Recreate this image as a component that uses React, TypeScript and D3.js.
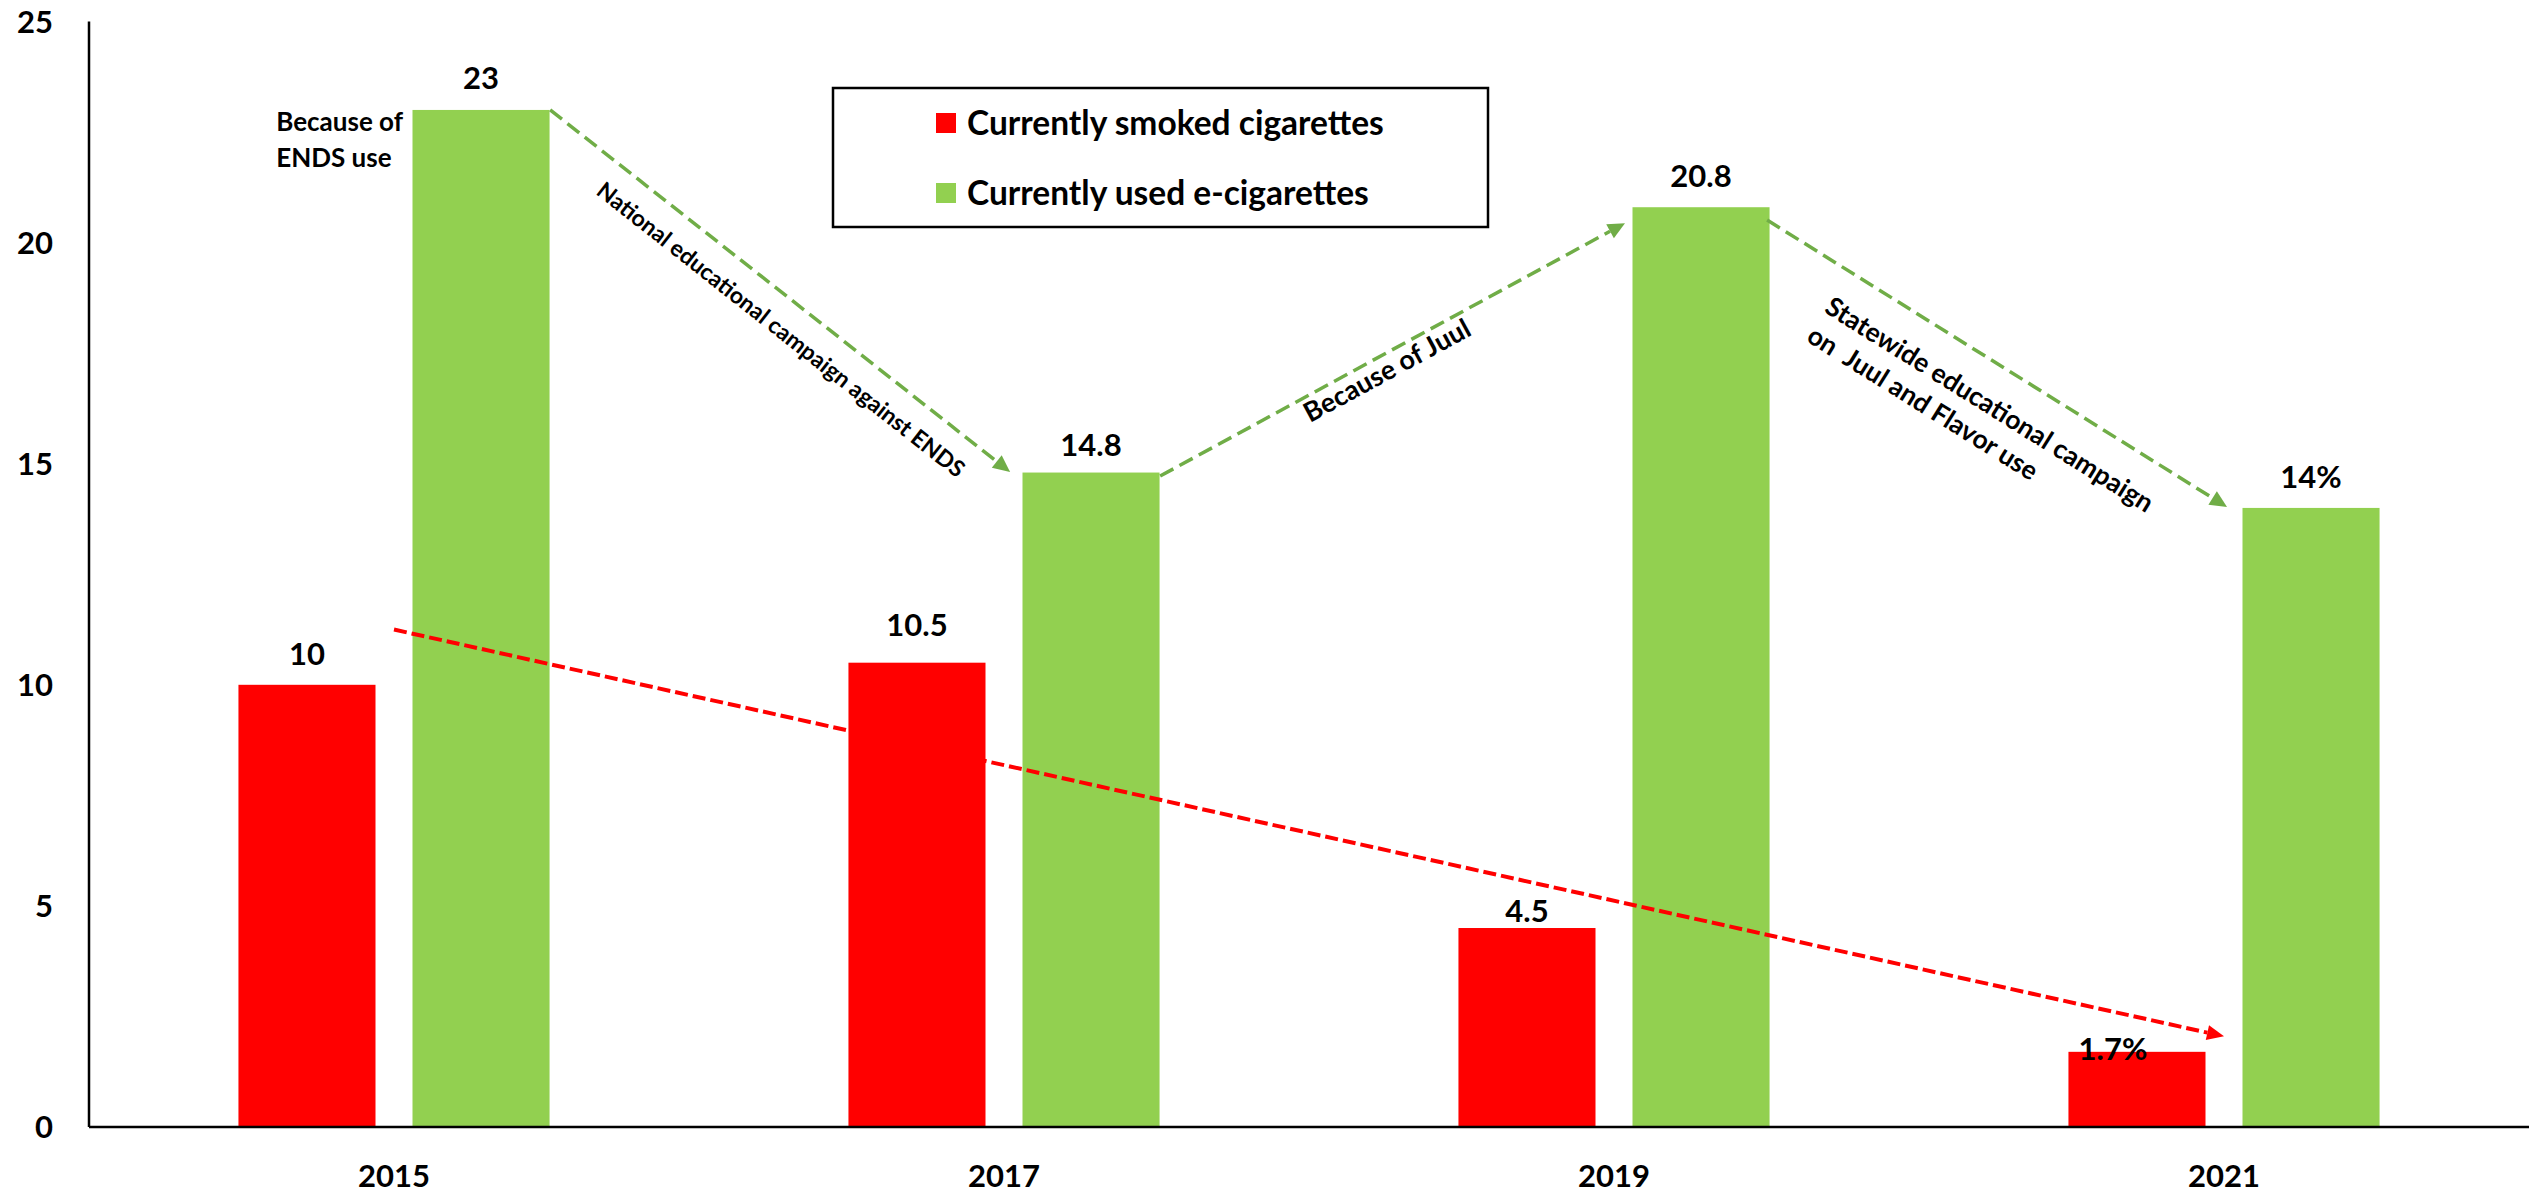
import React from 'react';
import * as d3 from 'd3';

// ---------- data ----------
const years = ['2015', '2017', '2019', '2021'];
const smoked = [10, 10.5, 4.5, 1.7];
const ecig = [23, 14.8, 20.8, 14];
const smokedLabels = ['10', '10.5', '4.5', '1.7%'];
const ecigLabels = ['23', '14.8', '20.8', '14%'];
const yTicks = [0, 5, 10, 15, 20, 25];
const seriesNames = ['Currently smoked cigarettes', 'Currently used e-cigarettes'];

// annotation arrows in data space: [category index, value]
const trendFrom = [0, 11.25];
const trendTo = [3, 2.05];
const ecigArrowFrom = [[0.256, 23], [1.256, 14.72], [2.251, 20.51]];
const ecigArrowTo = [[1.01, 14.81], [2.018, 20.44], [3.005, 14.02]];
const ecigArrowText = [
  ['National educational campaign against ENDS'],
  ['Because of Juul'],
  ['Statewide educational campaign', 'on  Juul and Flavor use'],
];
const endsNote = ['Because of', 'ENDS use'];
const endsNotePos = [-0.193, 22.52];

// ---------- styles ----------
const W = 2529;
const H = 1194;
const margin = { left: 89, right: 0, top: 21.5, bottom: 67 };
const RED = '#FF0000';
const GREEN = '#92D050';
const ARROW_GREEN = '#70AD47';
const FONT = "Lato, 'Open Sans', sans-serif";
const smokedLabelDy = [20, 27, 6, -8];
const smokedLabelDx = [0, 0, 0, -24];
const ecigLabelDy = [21, 17, 20, 20];
const annFont = [23, 27, 26.5];
const annAlong = [87, 157, 96];
const annPerp = [38, 25, 48];
const annLineH = 34;

function arrowParts(p0: number[], p1: number[], headLen: number, headW: number) {
  const dx = p1[0] - p0[0];
  const dy = p1[1] - p0[1];
  const L = Math.hypot(dx, dy);
  const ux = dx / L;
  const uy = dy / L;
  const bx = p1[0] - ux * headLen;
  const by = p1[1] - uy * headLen;
  const nx = -uy;
  const ny = ux;
  const head = [
    [p1[0], p1[1]],
    [bx + (nx * headW) / 2, by + (ny * headW) / 2],
    [bx - (nx * headW) / 2, by - (ny * headW) / 2],
  ];
  return { ux, uy, nx, ny, bx, by, head, angle: (Math.atan2(uy, ux) * 180) / Math.PI };
}

export default function App() {
  const y = d3.scaleLinear().domain([0, 25]).range([H - margin.bottom, margin.top]);
  const x = d3.scaleBand().domain(years).range([margin.left, W - margin.right]).padding(0);
  const bw = x.bandwidth();
  const groupW = bw * 0.51;
  const xs = d3
    .scaleBand()
    .domain(['smoked', 'ecig'])
    .range([(bw - groupW) / 2, (bw + groupW) / 2])
    .paddingInner(0.2126);
  const xi = d3
    .scaleLinear()
    .domain([0, years.length - 1])
    .range([(x(years[0]) as number) + bw / 2, (x(years[years.length - 1]) as number) + bw / 2]);
  const pt = (d: number[]) => [xi(d[0]), y(d[1])];

  const trend = arrowParts(pt(trendFrom), pt(trendTo), 17, 15);

  return (
    <svg
      width={W}
      height={H}
      style={{ position: 'absolute', left: 0, top: 0, display: 'block', background: '#fff' }}
      fontFamily={FONT}
      fontWeight={700}
    >
      <rect x={0} y={0} width={W} height={H} fill="#fff" />
      {/* bars */}
      {years.map((yr, i) => (
        <g key={yr} transform={`translate(${x(yr)},0)`}>
          <rect
            x={xs('smoked')}
            y={y(smoked[i])}
            width={xs.bandwidth()}
            height={y(0) - y(smoked[i])}
            fill={RED}
          />
          <rect
            x={xs('ecig')}
            y={y(ecig[i])}
            width={xs.bandwidth()}
            height={y(0) - y(ecig[i])}
            fill={GREEN}
          />
          <text
            x={(xs('smoked') as number) + xs.bandwidth() / 2 + smokedLabelDx[i]}
            y={y(smoked[i]) - smokedLabelDy[i]}
            textAnchor="middle"
            fontSize={31}
            fill="#000"
          >
            {smokedLabels[i]}
          </text>
          <text
            x={(xs('ecig') as number) + xs.bandwidth() / 2}
            y={y(ecig[i]) - ecigLabelDy[i]}
            textAnchor="middle"
            fontSize={31}
            fill="#000"
          >
            {ecigLabels[i]}
          </text>
          <text x={bw / 2} y={y(0) + 60} textAnchor="middle" fontSize={31} fill="#000">
            {yr}
          </text>
        </g>
      ))}

      {/* axes */}
      <line x1={margin.left} x2={margin.left} y1={y(25)} y2={y(0)} stroke="#000" strokeWidth={2.5} />
      <line x1={margin.left} x2={W - margin.right} y1={y(0)} y2={y(0)} stroke="#000" strokeWidth={2.5} />
      {yTicks.map((t) => (
        <text key={t} x={53} y={y(t)} dy="0.36em" textAnchor="end" fontSize={31} fill="#000">
          {t}
        </text>
      ))}

      {/* trend arrow (red) */}
      <line
        x1={pt(trendFrom)[0]}
        y1={pt(trendFrom)[1]}
        x2={trend.bx}
        y2={trend.by}
        stroke={RED}
        strokeWidth={4}
        strokeDasharray="13 5"
      />
      <polygon points={trend.head.map((p) => p.join(',')).join(' ')} fill={RED} />

      {/* e-cig arrows (green) */}
      {ecigArrowFrom.map((f, i) => {
        const p0 = pt(f);
        const p1 = pt(ecigArrowTo[i]);
        const a = arrowParts(p0, p1, 17, 16);
        const tx = p0[0] + a.ux * annAlong[i] + a.nx * annPerp[i];
        const ty = p0[1] + a.uy * annAlong[i] + a.ny * annPerp[i];
        return (
          <g key={i}>
            <line
              x1={p0[0]}
              y1={p0[1]}
              x2={a.bx}
              y2={a.by}
              stroke={ARROW_GREEN}
              strokeWidth={3.5}
              strokeDasharray="15 7"
            />
            <polygon points={a.head.map((p) => p.join(',')).join(' ')} fill={ARROW_GREEN} />
            <text
              transform={`translate(${tx},${ty}) rotate(${a.angle})`}
              fontSize={annFont[i]}
              fill="#000"
            >
              {ecigArrowText[i].map((line, j) => (
                <tspan key={j} x={0} y={j * annLineH} style={{ whiteSpace: 'pre' }}>
                  {line}
                </tspan>
              ))}
            </text>
          </g>
        );
      })}

      {/* Because of ENDS use */}
      <text x={xi(endsNotePos[0])} y={y(endsNotePos[1])} fontSize={26} fill="#000">
        {endsNote.map((line, j) => (
          <tspan key={j} x={xi(endsNotePos[0])} dy={j === 0 ? 0 : 36}>
            {line}
          </tspan>
        ))}
      </text>

      {/* legend */}
      <g>
        <rect x={833} y={88} width={655} height={139} fill="#fff" stroke="#000" strokeWidth={2.5} />
        {seriesNames.map((name, i) => (
          <g key={name} transform={`translate(936,${123 + i * 70})`}>
            <rect x={0} y={-10} width={20} height={20} fill={i === 0 ? RED : GREEN} />
            <text x={31} y={0} dy="0.36em" fontSize={33.5} fill="#000">
              {name}
            </text>
          </g>
        ))}
      </g>
    </svg>
  );
}
